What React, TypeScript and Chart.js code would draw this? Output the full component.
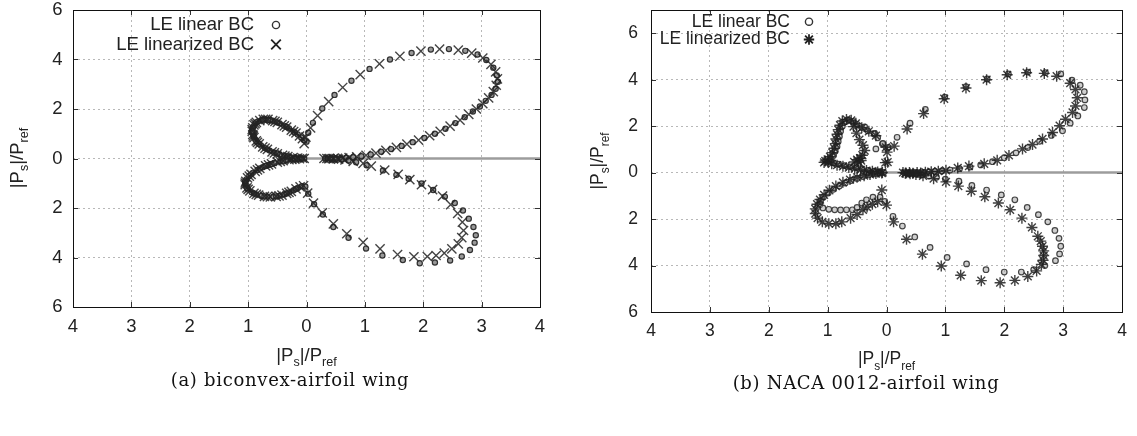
import React, { useEffect, useRef } from 'react';
import { Chart, registerables } from 'chart.js';

Chart.register(...registerables);

type Pt = [number, number];

// ---------------- axes / text ----------------
const xTickValues = [-4, -3, -2, -1, 0, 1, 2, 3, 4];
const yTickValues = [-6, -4, -2, 0, 2, 4, 6];
const xRange: Pt = [-4, 4];
const yRangeA: Pt = [-6, 6];
const yRangeB: Pt = [-6, 7];
const seriesNames = ['LE linear BC', 'LE linearized BC'];
const axisTitleParts: [string, boolean][] = [['|P', false], ['s', true], ['|/P', false], ['ref', true]];
const captionA = '(a) biconvex-airfoil wing';
const captionB = '(b) NACA 0012-airfoil wing';
const wakeLine: Pt[] = [[0, 0], [4, 0]];

// ---------------- (a) biconvex: LE linear BC (circles) ----------------
const aLinUpperRight: Pt[] = [
  [0.32, 0.0], [0.37, 0.0], [0.43, 0.0], [0.5, 0.0], [0.58, 0.01], [0.68, 0.03], [0.8, 0.05], [0.94, 0.09],
  [1.1, 0.16], [1.28, 0.27], [1.45, 0.38], [1.63, 0.51], [1.82, 0.66], [2.02, 0.83], [2.2, 1.0], [2.38, 1.2],
  [2.55, 1.43], [2.71, 1.67], [2.85, 1.9], [2.97, 2.1], [3.07, 2.33], [3.17, 2.57], [3.24, 2.82], [3.28, 3.1],
  [3.26, 3.36], [3.2, 3.67], [3.08, 3.98], [2.93, 4.2], [2.72, 4.35], [2.44, 4.42], [2.13, 4.4], [1.8, 4.26],
  [1.43, 4.0], [1.08, 3.62], [0.77, 3.14], [0.48, 2.57], [0.27, 2.02], [0.11, 1.44], [0.03, 1.04], [0.0, 0.68],
];
const aLinUpperLeft: Pt[] = [
  [-0.04, 0.74], [-0.09, 0.85], [-0.15, 0.97], [-0.22, 1.09], [-0.3, 1.21], [-0.38, 1.32], [-0.46, 1.42],
  [-0.54, 1.5], [-0.62, 1.56], [-0.7, 1.58], [-0.77, 1.56], [-0.83, 1.5], [-0.88, 1.41], [-0.91, 1.3],
  [-0.93, 1.17], [-0.93, 1.04], [-0.91, 0.91], [-0.88, 0.78], [-0.84, 0.65], [-0.78, 0.53], [-0.71, 0.42],
  [-0.63, 0.32], [-0.55, 0.23], [-0.46, 0.16], [-0.37, 0.1], [-0.28, 0.06], [-0.19, 0.03], [-0.11, 0.01], [-0.04, 0.0],
  [-0.66, 1.55], [-0.86, 1.46], [-0.92, 1.24], [-0.9, 0.86], [-0.81, 0.59], [-0.67, 0.37], [-0.5, 0.2],
  [-0.33, 0.08], [-0.5, 1.46], [-0.34, 1.27], [-0.2, 1.05], [-0.74, 1.58], [-0.93, 1.1], [-0.86, 0.71],
];
const aLinLowerLeft: Pt[] = [
  [-0.08, -0.01], [-0.16, -0.02], [-0.25, -0.04], [-0.35, -0.07], [-0.45, -0.12], [-0.55, -0.18], [-0.65, -0.26],
  [-0.75, -0.35], [-0.84, -0.46], [-0.92, -0.58], [-0.98, -0.71], [-1.03, -0.85], [-1.05, -0.99], [-1.04, -1.12],
  [-1.0, -1.25], [-0.94, -1.36], [-0.86, -1.45], [-0.77, -1.51], [-0.67, -1.54], [-0.57, -1.54], [-0.47, -1.51],
  [-0.38, -1.45], [-0.3, -1.37], [-0.22, -1.28], [-0.15, -1.19], [-0.08, -1.12], [-0.02, -1.13],
  [-0.6, -0.22], [-0.8, -0.4], [-0.95, -0.64], [-1.05, -0.92], [-1.02, -1.19], [-0.9, -1.41], [-0.72, -1.53],
  [-0.52, -1.53], [-0.34, -1.41], [-0.18, -1.23], [-0.4, -0.09], [-0.2, -0.03], [-0.7, -0.3],
];
const aLinLowerRight: Pt[] = [
  [0.03, -1.42], [0.13, -1.85], [0.28, -2.26], [0.46, -2.77], [0.72, -3.2], [1.02, -3.64], [1.3, -3.92],
  [1.65, -4.1], [1.94, -4.23], [2.2, -4.2], [2.46, -4.12], [2.66, -3.96], [2.8, -3.7], [2.88, -3.4], [2.9, -3.1],
  [2.86, -2.77], [2.78, -2.43], [2.68, -2.1], [2.54, -1.8], [2.37, -1.54], [2.17, -1.27], [1.97, -1.01],
  [1.75, -0.82], [1.54, -0.66], [1.31, -0.48], [1.03, -0.27], [0.85, -0.15], [0.72, -0.08], [0.6, -0.04],
  [0.5, -0.02], [0.42, -0.01],
];

// ---------------- (a) biconvex: LE linearized BC (crosses) ----------------
const aLzdUpperRight: Pt[] = [
  [0.3, 0.0], [0.35, 0.0], [0.4, 0.0], [0.46, 0.0], [0.53, 0.01], [0.62, 0.02], [0.73, 0.04], [0.86, 0.07],
  [1.02, 0.13], [1.19, 0.22], [1.36, 0.33], [1.54, 0.45], [1.72, 0.58], [1.92, 0.74], [2.11, 0.92], [2.29, 1.1],
  [2.46, 1.31], [2.63, 1.55], [2.78, 1.78], [2.91, 2.0], [3.02, 2.22], [3.12, 2.45], [3.2, 2.7], [3.25, 2.96],
  [3.27, 3.22], [3.24, 3.5], [3.16, 3.8], [3.02, 4.06], [2.83, 4.26], [2.6, 4.38], [2.28, 4.42], [1.96, 4.34],
  [1.6, 4.13], [1.25, 3.82], [0.92, 3.39], [0.62, 2.87], [0.38, 2.3], [0.19, 1.73], [0.07, 1.24], [-0.01, 0.86],
  [-0.04, 0.6],
];
const aLzdUpperLeft: Pt[] = [
  [-0.07, 0.8], [-0.12, 0.91], [-0.18, 1.03], [-0.26, 1.15], [-0.34, 1.27], [-0.42, 1.37], [-0.5, 1.46],
  [-0.58, 1.53], [-0.66, 1.58], [-0.74, 1.58], [-0.8, 1.53], [-0.86, 1.46], [-0.9, 1.36], [-0.92, 1.24],
  [-0.93, 1.1], [-0.92, 0.97], [-0.9, 0.84], [-0.86, 0.71], [-0.81, 0.59], [-0.75, 0.47], [-0.67, 0.37],
  [-0.59, 0.27], [-0.5, 0.19], [-0.41, 0.13], [-0.32, 0.08], [-0.23, 0.04], [-0.15, 0.02], [-0.07, 0.01],
  [-0.7, 1.58], [-0.88, 1.41], [-0.93, 1.17], [-0.91, 0.91], [-0.84, 0.65], [-0.71, 0.42], [-0.55, 0.23],
  [-0.37, 0.1], [-0.54, 1.5], [-0.38, 1.32], [-0.22, 1.09],
];
const aLzdLowerLeft: Pt[] = [
  [-0.04, 0.0], [-0.12, -0.01], [-0.2, -0.03], [-0.3, -0.05], [-0.4, -0.09], [-0.5, -0.15], [-0.6, -0.22],
  [-0.7, -0.3], [-0.8, -0.4], [-0.88, -0.52], [-0.95, -0.64], [-1.01, -0.78], [-1.04, -0.92], [-1.05, -1.06],
  [-1.02, -1.19], [-0.97, -1.31], [-0.9, -1.41], [-0.82, -1.48], [-0.72, -1.53], [-0.62, -1.55], [-0.52, -1.53],
  [-0.42, -1.48], [-0.34, -1.41], [-0.26, -1.33], [-0.18, -1.23], [-0.11, -1.15], [-0.05, -1.1],
  [-0.65, -0.26], [-0.84, -0.46], [-0.98, -0.71], [-1.05, -0.99], [-1.0, -1.25], [-0.86, -1.45],
  [-0.67, -1.54], [-0.47, -1.51], [-0.3, -1.37], [-0.45, -0.12], [-0.25, -0.04],
];
const aLzdLowerRight: Pt[] = [
  [0.02, -1.4], [0.12, -1.8], [0.27, -2.2], [0.46, -2.64], [0.69, -3.04], [0.97, -3.39], [1.26, -3.65],
  [1.56, -3.88], [1.84, -3.97], [2.07, -3.96], [2.22, -3.92], [2.36, -3.82], [2.49, -3.65], [2.6, -3.45],
  [2.66, -3.2], [2.69, -2.91], [2.67, -2.57], [2.59, -2.22], [2.47, -1.86], [2.33, -1.52], [2.16, -1.26],
  [1.97, -1.06], [1.77, -0.85], [1.57, -0.64], [1.34, -0.47], [1.11, -0.31], [0.97, -0.2], [0.8, -0.12],
  [0.66, -0.06], [0.55, -0.03], [0.46, -0.02], [0.38, -0.01],
];

// ---------------- (b) NACA 0012: LE linear BC (circles) ----------------
const bLinUpperRight: Pt[] = [
  [0.3, 0.0], [0.36, 0.0], [0.42, 0.0], [0.48, -0.01], [0.55, 0.0], [0.63, 0.01], [0.72, 0.03], [0.82, 0.05],
  [0.94, 0.07], [1.08, 0.11], [1.24, 0.17], [1.42, 0.24], [1.6, 0.33], [1.8, 0.47], [2.0, 0.64], [2.2, 0.85],
  [2.4, 1.08], [2.6, 1.35], [2.8, 1.6], [2.99, 1.8], [3.12, 2.13], [3.25, 2.44], [3.36, 2.8], [3.37, 3.13],
  [3.36, 3.48], [3.29, 3.76], [3.15, 3.98], [2.96, 4.25], [2.7, 4.3], [2.4, 4.33], [2.07, 4.25], [1.71, 4.03],
  [1.35, 3.7], [0.99, 3.25], [0.66, 2.72], [0.4, 2.13], [0.18, 1.52], [0.03, 1.09],
];
const bLinUpperLeft: Pt[] = [
  [-0.07, 1.24], [-0.15, 1.5], [-0.21, 1.66], [-0.32, 1.8], [-0.42, 1.94], [-0.5, 2.08], [-0.57, 2.2],
  [-0.64, 2.26], [-0.71, 2.18], [-0.75, 2.0], [-0.78, 1.78], [-0.8, 1.56], [-0.82, 1.34], [-0.84, 1.12],
  [-0.87, 0.92], [-0.9, 0.74], [-0.94, 0.58], [-0.96, 0.48], [-0.9, 0.42], [-0.81, 0.36], [-0.71, 0.3],
  [-0.61, 0.25], [-0.51, 0.2], [-0.41, 0.15], [-0.31, 0.1], [-0.21, 0.06], [-0.12, 0.03], [-0.05, 0.01],
  [-0.37, 1.97], [-0.2, 1.69], [-0.06, 1.26], [-0.18, 1.02],
];
const bLinLowerLeft: Pt[] = [
  [-0.1, -0.02], [-0.2, -0.05], [-0.3, -0.1], [-0.4, -0.17], [-0.5, -0.25], [-0.6, -0.34], [-0.7, -0.45],
  [-0.8, -0.58], [-0.9, -0.72], [-0.99, -0.88], [-1.07, -1.05], [-1.12, -1.22], [-1.13, -1.38], [-1.08, -1.52],
  [-0.98, -1.58], [-0.88, -1.6], [-0.78, -1.61], [-0.68, -1.6], [-0.58, -1.6], [-0.5, -1.5], [-0.42, -1.31],
  [-0.34, -1.17], [-0.23, -1.06], [-0.11, -1.06], [-0.03, -1.24],
];
const bLinLowerRight: Pt[] = [
  [0.11, -1.88], [0.27, -2.3], [0.48, -2.77], [0.74, -3.22], [1.03, -3.65], [1.36, -3.93], [1.69, -4.18],
  [2.0, -4.28], [2.29, -4.28], [2.5, -4.18], [2.69, -4.0], [2.87, -3.79], [2.94, -3.5], [2.96, -3.17],
  [2.93, -2.83], [2.86, -2.49], [2.74, -2.12], [2.58, -1.81], [2.39, -1.5], [2.18, -1.17], [1.95, -0.96],
  [1.7, -0.75], [1.45, -0.55], [1.23, -0.37], [1.0, -0.28], [0.85, -0.2], [0.72, -0.15], [0.6, -0.1],
  [0.5, -0.06], [0.42, -0.04], [0.36, -0.02],
];

// ---------------- (b) NACA 0012: LE linearized BC (stars) ----------------
const bLzdUpperRight: Pt[] = [
  [0.28, 0.0], [0.33, -0.02], [0.39, 0.0], [0.45, -0.03], [0.52, 0.0], [0.58, -0.02], [0.66, 0.02], [0.76, 0.04],
  [0.88, 0.06], [1.01, 0.1], [1.21, 0.2], [1.4, 0.28], [1.66, 0.38], [1.88, 0.53], [2.08, 0.74], [2.31, 1.02],
  [2.48, 1.21], [2.65, 1.45], [2.82, 1.73], [2.94, 2.02], [3.04, 2.3], [3.16, 2.59], [3.21, 2.87], [3.24, 3.22],
  [3.21, 3.58], [3.12, 3.85], [2.89, 4.15], [2.68, 4.27], [2.38, 4.3], [2.05, 4.21], [1.7, 4.0], [1.35, 3.64],
  [0.98, 3.18], [0.63, 2.54], [0.35, 1.88], [0.13, 1.14], [0.02, 0.45],
];
const bLzdUpperLeft: Pt[] = [
  [-0.02, 0.43], [0.01, 0.88], [-0.01, 1.09], [-0.18, 1.59], [-0.3, 1.78], [-0.42, 1.93], [-0.52, 2.12],
  [-0.6, 2.25], [-0.68, 2.29], [-0.75, 2.22], [-0.79, 2.04], [-0.82, 1.85], [-0.84, 1.65], [-0.86, 1.45],
  [-0.87, 1.25], [-0.89, 1.05], [-0.92, 0.86], [-0.96, 0.69], [-1.0, 0.57], [-1.04, 0.5], [-1.06, 0.44],
  [-0.99, 0.46], [-0.93, 0.38], [-0.84, 0.32], [-0.74, 0.27], [-0.64, 0.22], [-0.54, 0.17], [-0.44, 0.13],
  [-0.34, 0.09], [-0.24, 0.06], [-0.15, 0.03], [-0.07, 0.01], [-0.56, 1.98], [-0.51, 1.7], [-0.46, 1.42],
  [-0.4, 1.18], [-0.37, 0.95], [-0.41, 0.75], [-0.45, 0.62], [-0.5, 0.56], [-0.43, 0.52], [-0.55, 0.46],
  [-0.47, 0.45],
];
const bLzdLowerLeft: Pt[] = [
  [-0.08, -0.02], [-0.18, -0.04], [-0.28, -0.08], [-0.38, -0.13], [-0.5, -0.2], [-0.62, -0.3], [-0.74, -0.42],
  [-0.86, -0.58], [-0.97, -0.76], [-1.06, -0.96], [-1.13, -1.16], [-1.18, -1.36], [-1.21, -1.56], [-1.21, -1.76],
  [-1.17, -1.96], [-1.09, -2.12], [-0.98, -2.2], [-0.86, -2.2], [-0.76, -2.12], [-0.61, -1.96], [-0.5, -1.8],
  [-0.4, -1.6], [-0.33, -1.48], [-0.24, -1.36], [-0.15, -1.25], [-0.08, -0.75], [0.0, -1.4],
];
const bLzdLowerRight: Pt[] = [
  [0.12, -2.12], [0.34, -2.87], [0.61, -3.51], [0.93, -4.02], [1.26, -4.42], [1.61, -4.65], [1.93, -4.74],
  [2.18, -4.64], [2.4, -4.47], [2.55, -4.23], [2.63, -3.95], [2.66, -3.77], [2.67, -3.57], [2.67, -3.37],
  [2.65, -3.17], [2.62, -2.95], [2.57, -2.74], [2.47, -2.36], [2.3, -1.96], [2.1, -1.6], [1.9, -1.31],
  [1.67, -1.04], [1.44, -0.8], [1.22, -0.58], [1.01, -0.4], [0.8, -0.26], [0.62, -0.14], [0.5, -0.08],
  [0.4, -0.05], [0.32, -0.03],
];

// ---------------- helpers ----------------
const FONT = "'Liberation Sans', Arial, Helvetica, sans-serif";
const toXY = (pts: Pt[]) => pts.map(([x, y]) => ({ x, y }));

type MarkerFn = (ctx: CanvasRenderingContext2D, x: number, y: number) => void;

const legendCircle = (r: number): MarkerFn => (ctx, x, y) => {
  ctx.beginPath();
  ctx.lineWidth = 1.4;
  ctx.strokeStyle = '#333';
  ctx.arc(x, y, r, 0, Math.PI * 2);
  ctx.stroke();
};
const legendCross = (r: number): MarkerFn => (ctx, x, y) => {
  ctx.beginPath();
  ctx.lineWidth = 1.8;
  ctx.strokeStyle = '#222';
  ctx.moveTo(x - r, y - r); ctx.lineTo(x + r, y + r);
  ctx.moveTo(x - r, y + r); ctx.lineTo(x + r, y - r);
  ctx.stroke();
};
const legendStar = (r: number): MarkerFn => (ctx, x, y) => {
  ctx.beginPath();
  ctx.lineWidth = 1.8;
  ctx.strokeStyle = '#222';
  const d = r * 0.75;
  ctx.moveTo(x - d, y - d); ctx.lineTo(x + d, y + d);
  ctx.moveTo(x - d, y + d); ctx.lineTo(x + d, y - d);
  ctx.moveTo(x - r, y); ctx.lineTo(x + r, y);
  ctx.moveTo(x, y - r); ctx.lineTo(x, y + r);
  ctx.stroke();
};

function drawSubLabel(
  ctx: CanvasRenderingContext2D, cx: number, cy: number, angle: number,
  mainSize: number, subSize: number,
) {
  ctx.save();
  ctx.translate(cx, cy);
  ctx.rotate(angle);
  ctx.fillStyle = '#222';
  ctx.textBaseline = 'alphabetic';
  ctx.textAlign = 'left';
  let total = 0;
  const widths = axisTitleParts.map(([t, sub]) => {
    ctx.font = `${sub ? subSize : mainSize}px ${FONT}`;
    const w = ctx.measureText(t).width;
    total += w;
    return w;
  });
  let x = -total / 2;
  const base = mainSize * 0.36;
  axisTitleParts.forEach(([t, sub], i) => {
    ctx.font = `${sub ? subSize : mainSize}px ${FONT}`;
    ctx.fillText(t, x, base + (sub ? mainSize * 0.3 : 0));
    x += widths[i];
  });
  ctx.restore();
}

interface PanelCfg {
  yRange: Pt;
  padTop: number;
  padRight: number;
  yAxisWidth: number;
  xAxisHeight: number;
  yTickPad: number;
  fontSize: number;
  xTitle: Pt;
  yTitle: Pt;
  legendRight: number;
  legendY: Pt;
  markerX: number;
  markers: [MarkerFn, MarkerFn];
  linear: Pt[];
  linearized: Pt[];
  linStyle: any;
  lzdStyle: any;
}

function buildConfig(p: PanelCfg): any {
  const decor = {
    id: 'decor',
    afterDraw(chart: any) {
      const { ctx, chartArea: a, scales } = chart;
      ctx.save();
      ctx.setLineDash([]);
      ctx.strokeStyle = '#333';
      ctx.lineWidth = 1;
      ctx.beginPath();
      xTickValues.forEach((v) => {
        const px = Math.round(scales.x.getPixelForValue(v)) + 0.5;
        ctx.moveTo(px, a.bottom); ctx.lineTo(px, a.bottom - 5);
        ctx.moveTo(px, a.top); ctx.lineTo(px, a.top + 5);
      });
      yTickValues.forEach((v) => {
        const py = Math.round(scales.y.getPixelForValue(v)) + 0.5;
        ctx.moveTo(a.left, py); ctx.lineTo(a.left + 5, py);
        ctx.moveTo(a.right, py); ctx.lineTo(a.right - 5, py);
      });
      ctx.stroke();
      ctx.strokeStyle = '#111';
      ctx.lineWidth = 1;
      ctx.strokeRect(Math.round(a.left) + 0.5, Math.round(a.top) + 0.5,
        Math.round(a.right - a.left), Math.round(a.bottom - a.top));
      drawSubLabel(ctx, p.xTitle[0], p.xTitle[1], 0, p.fontSize, p.fontSize * 0.68);
      drawSubLabel(ctx, p.yTitle[0], p.yTitle[1], -Math.PI / 2, p.fontSize, p.fontSize * 0.68);
      ctx.font = `${p.fontSize}px ${FONT}`;
      ctx.fillStyle = '#222';
      ctx.textAlign = 'right';
      ctx.textBaseline = 'middle';
      seriesNames.forEach((name, i) => {
        ctx.fillText(name, p.legendRight, p.legendY[i]);
        p.markers[i](ctx, p.markerX, p.legendY[i]);
      });
      ctx.restore();
    },
  };

  const tickFont = { family: FONT, size: p.fontSize };
  const zeroPad = (s: any) => { s.paddingTop = 0; s.paddingBottom = 0; s.paddingLeft = 0; s.paddingRight = 0; };
  return {
    type: 'scatter',
    data: {
      datasets: [
        { label: seriesNames[1], data: toXY(p.linearized), showLine: false, ...p.lzdStyle },
        { label: seriesNames[0], data: toXY(p.linear), showLine: false, ...p.linStyle },
        {
          label: 'wake', data: toXY(wakeLine), showLine: true, pointRadius: 0,
          borderColor: '#9c9c9c', borderWidth: 2.5,
        },
      ],
    },
    options: {
      responsive: false,
      animation: false,
      devicePixelRatio: 1,
      layout: { padding: { left: 0, top: p.padTop, right: p.padRight, bottom: 0 } },
      plugins: { legend: { display: false }, tooltip: { enabled: false }, title: { display: false } },
      scales: {
        x: {
          type: 'linear', min: xRange[0], max: xRange[1],
          afterBuildTicks: (s: any) => { s.ticks = xTickValues.map((v) => ({ value: v })); },
          afterFit: (s: any) => { s.height = p.xAxisHeight; zeroPad(s); },
          ticks: {
            autoSkip: false, maxRotation: 0, padding: 9, color: '#222', font: tickFont,
            callback: (v: any) => String(Math.abs(Number(v))),
          },
          grid: { color: 'rgba(0,0,0,0.28)', lineWidth: 1, drawTicks: false },
          border: { display: false, dash: [2, 3] },
        },
        y: {
          type: 'linear', min: p.yRange[0], max: p.yRange[1],
          afterBuildTicks: (s: any) => { s.ticks = yTickValues.map((v) => ({ value: v })); },
          afterFit: (s: any) => { s.width = p.yAxisWidth; zeroPad(s); },
          ticks: {
            autoSkip: false, padding: p.yTickPad, color: '#222', font: tickFont,
            callback: (v: any) => String(Math.abs(Number(v))),
          },
          grid: { color: 'rgba(0,0,0,0.28)', lineWidth: 1, drawTicks: false },
          border: { display: false, dash: [2, 3] },
        },
      },
    },
    plugins: [decor],
  };
}

const panelA: PanelCfg = {
  yRange: yRangeA, padTop: 10, padRight: 28, yAxisWidth: 73, xAxisHeight: 129, yTickPad: 10.5, fontSize: 18.5,
  xTitle: [306.5, 354], yTitle: [16, 158],
  legendRight: 254, legendY: [25, 44.5], markerX: 276,
  markers: [legendCircle(3.6), legendCross(4.8)],
  linear: [...aLinUpperRight, ...aLinUpperLeft, ...aLinLowerLeft, ...aLinLowerRight],
  linearized: [...aLzdUpperRight, ...aLzdUpperLeft, ...aLzdLowerLeft, ...aLzdLowerRight],
  linStyle: {
    pointStyle: 'circle', pointRadius: 2.6, borderWidth: 1.2,
    borderColor: 'rgba(40,40,40,0.95)', backgroundColor: 'rgba(110,110,110,0.7)',
  },
  lzdStyle: {
    pointStyle: 'crossRot', pointRadius: 6.5, borderWidth: 1.4,
    borderColor: 'rgba(35,35,35,0.85)', backgroundColor: 'rgba(35,35,35,0.85)',
  },
};

const panelB: PanelCfg = {
  yRange: yRangeB, padTop: 10, padRight: 15, yAxisWidth: 83, xAxisHeight: 124, yTickPad: 13, fontSize: 17.5,
  xTitle: [318.5, 358], yTitle: [29, 161],
  legendRight: 222, legendY: [21.7, 39.5], markerX: 241,
  markers: [legendCircle(3.6), legendStar(5.2)],
  linear: [...bLinUpperRight, ...bLinUpperLeft, ...bLinLowerLeft, ...bLinLowerRight],
  linearized: [...bLzdUpperRight, ...bLzdUpperLeft, ...bLzdLowerLeft, ...bLzdLowerRight],
  linStyle: {
    pointStyle: 'circle', pointRadius: 2.8, borderWidth: 1.2,
    borderColor: 'rgba(50,50,50,0.9)', backgroundColor: 'rgba(160,160,160,0.5)',
  },
  lzdStyle: {
    pointStyle: 'star', pointRadius: 5.5, borderWidth: 1.4,
    borderColor: 'rgba(30,30,30,0.85)', backgroundColor: 'rgba(30,30,30,0.85)',
  },
};

const captionStyle: React.CSSProperties = {
  position: 'absolute', height: 22, lineHeight: '22px', width: 440, textAlign: 'center',
  fontFamily: "'DejaVu Serif', 'Liberation Serif', serif", fontSize: 18, letterSpacing: '0.7px',
  color: '#111', whiteSpace: 'nowrap',
};

export default function App() {
  const refA = useRef<HTMLCanvasElement>(null);
  const refB = useRef<HTMLCanvasElement>(null);

  useEffect(() => {
    const a = new Chart(refA.current as HTMLCanvasElement, buildConfig(panelA));
    const b = new Chart(refB.current as HTMLCanvasElement, buildConfig(panelB));
    return () => { a.destroy(); b.destroy(); };
  }, []);

  return (
    <div style={{ position: 'absolute', left: 0, top: 0, width: 1137, height: 436, background: '#fff', overflow: 'hidden' }}>
      <canvas ref={refA} width={568} height={436} style={{ position: 'absolute', left: 0, top: 0 }} />
      <canvas ref={refB} width={569} height={436} style={{ position: 'absolute', left: 568, top: 0 }} />
      <div style={{ ...captionStyle, left: 290 - 220, top: 369 }}>{captionA}</div>
      <div style={{ ...captionStyle, left: 866 - 220, top: 372 }}>{captionB}</div>
    </div>
  );
}
